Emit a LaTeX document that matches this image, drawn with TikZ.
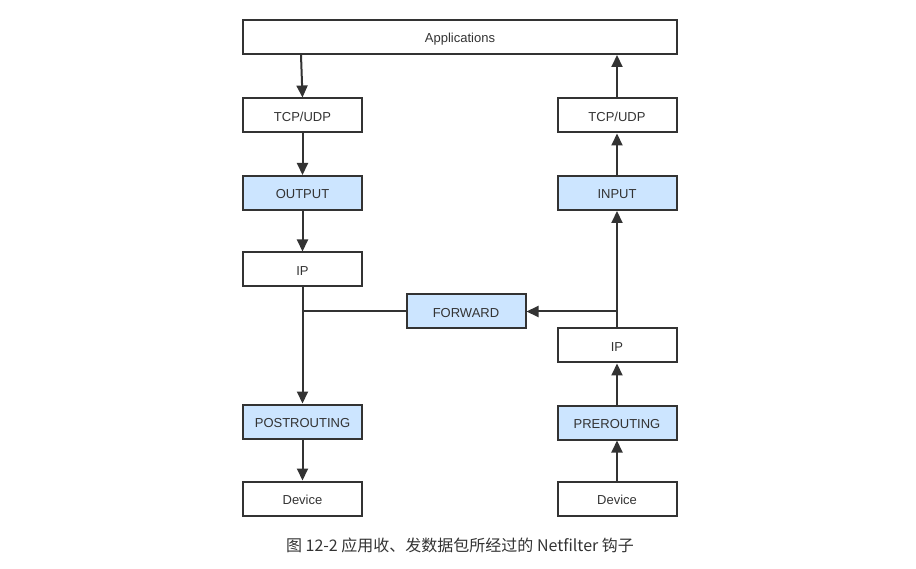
\documentclass[tikz,border=0pt]{standalone}
\usepackage{fontspec}
\setmainfont{Liberation Sans}
\newfontfamily\cjk{Noto Sans CJK SC}
\usetikzlibrary{arrows.meta}
\definecolor{ln}{HTML}{333333}
\definecolor{hook}{HTML}{CCE5FF}
\definecolor{tx}{HTML}{333333}
\tikzset{
  box/.style={draw=ln, line width=2pt, minimum width=119pt, minimum height=34pt, inner sep=0pt, text=tx, text height=12pt, text depth=0pt, font=\fontsize{13}{14}\selectfont},
  hookbox/.style={box, fill=hook},
  conn/.style={draw=ln, line width=2pt, -{Triangle[length=12pt,width=11pt]}},
  plain/.style={draw=ln, line width=2pt}
}
\begin{document}
\begin{tikzpicture}[x=1pt,y=-1pt]
\useasboundingbox (0,0) rectangle (916,569);
\node[box, minimum width=434pt] (app) at (460,37) {Applications};
\node[box] (ltcp) at (302.5,115.5) {TCP/UDP};
\node[hookbox] (out) at (302.5,193) {OUTPUT};
\node[box] (lip) at (302.5,269.5) {IP};
\node[hookbox] (post) at (302.5,421.5) {POSTROUTING};
\node[box] (ldev) at (302.5,498.5) {Device};
\node[box] (rtcp) at (617,115.5) {TCP/UDP};
\node[hookbox] (in) at (617,193) {INPUT};
\node[box] (rip) at (617,345.5) {IP};
\node[hookbox] (pre) at (617,422.5) {PREROUTING};
\node[box] (rdev) at (617,498.5) {Device};
\node[hookbox] (fwd) at (466,311.5) {FORWARD};
\coordinate (rj) at (617,311.5);
\coordinate (lj) at (302.5,311.5);
\node[text=tx, font=\cjk\fontsize{16}{18}\selectfont] (cap) at (460,545) {图 12-2 应用收、发数据包所经过的 Netfilter 钩子};
% left path
\draw[conn] (app.south -| 301,0) -- (ltcp.north);
\draw[conn] (ltcp) -- (out);
\draw[conn] (out) -- (lip);
\draw[conn] (lip) -- (post);
\draw[conn] (post) -- (ldev);
% right path
\draw[conn] (rdev) -- (pre);
\draw[conn] (pre) -- (rip);
\draw[conn] (rip) -- (in);
\draw[conn] (in) -- (rtcp);
\draw[conn] (rtcp) -- (rtcp |- app.south);
% forward
\draw[conn] (rj) -- (fwd.east);
\draw[plain] (fwd.west) -- (lj);
\end{tikzpicture}
\end{document}
